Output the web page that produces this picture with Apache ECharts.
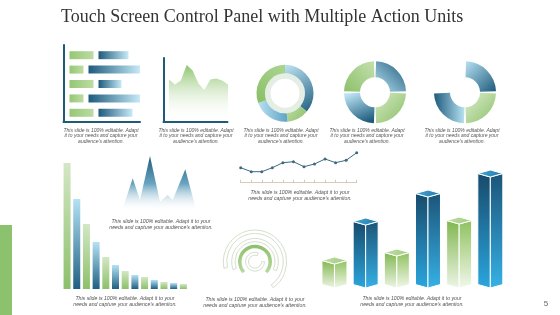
<!DOCTYPE html>
<html><head><meta charset="utf-8">
<script src="https://cdn.jsdelivr.net/npm/echarts@6.0.0/dist/echarts.min.js"></script>
<style>html,body{margin:0;padding:0;background:#fff}#c{width:560px;height:315px}</style>
</head><body><div id="c"></div>
<script>
// ---------- text ----------
const titleText = 'Touch Screen Control Panel with Multiple Action Units';
const captionShort = 'This slide is 100% editable. Adapt\nit to your needs and capture your\naudience\u2019s attention.';
const captionLong = 'This slide is 100% editable. Adapt it to your\nneeds and capture your audience\u2019s attention.';
const pageNumber = '5';

// ---------- panel 1: paired horizontal bars ----------
const hbarRows = ['Row 1', 'Row 2', 'Row 3', 'Row 4', 'Row 5'];
const hbarGreen = [24, 14, 24, 14, 24];
const hbarBlue = [30, 52, 23, 52, 34];

// ---------- panel 2: area ----------
const areaCats = ['1', '2', '3', '4', '5', '6', '7', '8', '9', '10', '11'];
const areaValues = [42, 37, 41, 56.5, 51, 38, 31.5, 42, 43, 41, 37];

// ---------- panels 3-5: donuts (degrees) ----------
const donutAValues = [130, 45, 75, 110];
const donutBValues = [90, 90, 90, 90];
const donutCValues = [90, 90, 90, 90];

// ---------- panel 6: descending bars ----------
const descCats = ['1', '2', '3', '4', '5', '6', '7', '8', '9', '10', '11', '12', '13'];
const descValues = [126, 90, 65, 47, 32, 24, 18, 14, 12, 9, 7, 6, 5];

// ---------- panel 7: mountains ----------
const mountainX = [0, 11, 18.3, 28.3, 38.3, 46, 51, 63.6, 75];
const mountainY = [0, 33.4, 11.7, 55.7, 10, 16.7, 11.7, 42.4, 0];

// ---------- panel 8: line ----------
const lineCats = ['1', '2', '3', '4', '5', '6', '7', '8', '9', '10', '11', '12'];
const lineValues = [15, 11, 11, 15, 20, 21, 16, 18.7, 23.7, 20, 22.4, 30];

// ---------- panel 9: concentric arcs (start angle, sweep in degrees) ----------
const arcStarts = [192, 200, 223, 0];
const arcSweeps = [247, 223, 266, 290];

// ---------- panel 10: 3D bars ----------
const cubeCats = ['A', 'B', 'C', 'D', 'E', 'F'];
const cubeValues = [24, 63, 32, 91, 64, 111];

// =====================================================
const chart = echarts.init(document.getElementById('c'), null, {renderer: 'canvas', width: 560, height: 315});
function lg(x0, y0, x1, y1, c0, c1) {
  return new echarts.graphic.LinearGradient(x0, y0, x1, y1, [{offset: 0, color: c0}, {offset: 1, color: c1}]);
}
const TEAL = '#1d5b78';
const DARKB = '#1d5a7c', LIGHTB = '#b8e2f2';
const frameAxis = (gi) => ({gridIndex: gi, type: 'value', min: 0, max: 1,
  axisLine: {show: true, onZero: false, lineStyle: {color: TEAL, width: 2}},
  axisTick: {show: false}, axisLabel: {show: false}, splitLine: {show: false}});
const hiddenVal = (gi, min, max) => ({gridIndex: gi, type: 'value', min, max, show: false});
const hiddenCat = (gi, data, extra) => Object.assign({gridIndex: gi, type: 'category', data, show: false}, extra || {});

function caption(x, y, text, lh, size) {
  return {type: 'text', x, y, silent: true, style: {text, fill: '#555', fontSize: size, fontStyle: 'italic',
    fontFamily: 'Liberation Sans', textAlign: 'center', textVerticalAlign: 'top', lineHeight: lh}};
}

function pieBase(center, radius, startAngle, data) {
  return {type: 'pie', center, radius, startAngle, clockwise: true, silent: true, animation: false,
    label: {show: false}, labelLine: {show: false}, emphasis: {disabled: true}, data};
}
const transparentItem = (v) => ({value: v, itemStyle: {color: 'rgba(0,0,0,0)', borderWidth: 0}});

const donutAStyles = [
  lg(0, 0, 1, 1, '#bfe3f2', '#1f5f80'),
  lg(0, 0, 1, 1, '#bcdca2', '#8cc06a'),
  lg(1, 0, 0, 0, '#5fa3c6', '#b8e0f0'),
  lg(0, 1, 1, 0, '#88bf65', '#acd491')
];
const donutBStyles = [
  lg(1, 0, 0, 1, DARKB, LIGHTB),
  lg(0, 0, 1, 1, '#d3e8c3', '#8bbf66'),
  lg(0.3, 0, 0.7, 1, LIGHTB, DARKB),
  lg(0, 1, 1, 0, '#8cc06a', '#c4e0ae')
];
const donutCStyles = [
  lg(0, 0, 1, 1, LIGHTB, DARKB),
  lg(0, 0, 1, 1, '#dcedcd', '#8cc06a'),
  lg(0, 0, 1, 0, DARKB, LIGHTB),
  null
];

const arcRadii = [[28.3, 31.7], [20, 23.3], [13.5, 17], [6.5, 9.5]];
const arcSeries = arcStarts.map((s, i) => {
  const filled = i === 2;
  const main = filled
    ? {value: arcSweeps[i], itemStyle: {color: lg(0, 0, 0, 1, '#8cc06a', '#b8d9a0'), borderWidth: 0}}
    : {value: arcSweeps[i], itemStyle: {color: 'rgba(0,0,0,0)', borderColor: '#cbd5bf', borderWidth: 0.8}};
  return pieBase([255, 261.7], arcRadii[i], s, [main, transparentItem(360 - arcSweeps[i])]);
});

const option = {
  animation: false,
  backgroundColor: '#fff',
  title: {text: titleText, left: 61, top: 8, padding: 0,
    textStyle: {fontFamily: 'Liberation Serif', fontSize: 18, fontWeight: 'normal', color: '#333'}},
  grid: [
    {left: 63.5, top: 45, width: 76.5, height: 77},
    {left: 63.5, top: 48, width: 76.5, height: 72},
    {left: 163.5, top: 58, width: 64, height: 63.5},
    {left: 169, top: 58, width: 59, height: 63.5},
    {left: 62.2, top: 160, width: 126, height: 129},
    {left: 121.7, top: 150, width: 75, height: 61.7},
    {left: 240.7, top: 150, width: 116, height: 32.7},
    {left: 318.9, top: 160, width: 187, height: 128}
  ],
  xAxis: [
    frameAxis(0),
    hiddenVal(1, 0, 76.5),
    frameAxis(2),
    hiddenCat(3, areaCats, {boundaryGap: false}),
    hiddenCat(4, descCats),
    hiddenVal(5, 0, 75),
    {gridIndex: 6, type: 'category', data: lineCats, boundaryGap: false,
      axisLine: {show: true, lineStyle: {color: '#d5cdb8', width: 1}},
      axisTick: {show: true, inside: true, length: 3, interval: 0, lineStyle: {color: '#d5cdb8'}},
      axisLabel: {show: false}, splitLine: {show: false}},
    hiddenCat(7, cubeCats)
  ],
  yAxis: [
    frameAxis(0),
    hiddenCat(1, hbarRows, {inverse: true}),
    frameAxis(2),
    hiddenVal(3, 0, 63.5),
    hiddenVal(4, 0, 129),
    hiddenVal(5, 0, 61.7),
    hiddenVal(6, 0, 32.7),
    hiddenVal(7, 0, 128)
  ],
  series: [
    {type: 'bar', xAxisIndex: 1, yAxisIndex: 1, stack: 'h', barWidth: 8, silent: true,
      data: hbarRows.map(() => 6), itemStyle: {color: 'rgba(0,0,0,0)'}},
    {type: 'bar', xAxisIndex: 1, yAxisIndex: 1, stack: 'h', barWidth: 8, silent: true,
      data: hbarGreen, itemStyle: {color: lg(0, 0, 1, 0, '#95c774', '#bddca3')}},
    {type: 'bar', xAxisIndex: 1, yAxisIndex: 1, stack: 'h', barWidth: 8, silent: true,
      data: hbarRows.map(() => 5), itemStyle: {color: 'rgba(0,0,0,0)'}},
    {type: 'bar', xAxisIndex: 1, yAxisIndex: 1, stack: 'h', barWidth: 8, silent: true,
      data: hbarBlue, itemStyle: {color: lg(0, 0, 1, 0, DARKB, '#c6eaf7')}},
    {type: 'line', xAxisIndex: 3, yAxisIndex: 3, data: areaValues, showSymbol: false, silent: true, z: 1,
      lineStyle: {width: 0}, areaStyle: {color: lg(0, 0, 0, 1, '#8dc36d', 'rgba(255,255,255,0)'), opacity: 1}},
    pieBase([285, 93.3], [14.5, 20], 90, [{value: 360, itemStyle: {color: '#e4eee4'}}]),
    pieBase([285, 93.3], [20, 28.5], 90, donutAValues.map((v, i) => ({value: v, itemStyle: {color: donutAStyles[i]}}))),
    Object.assign(pieBase([375, 92.3], [15, 31], 90, donutBValues.map((v, i) => ({value: v, itemStyle: {color: donutBStyles[i]}}))), {padAngle: 4}),
    Object.assign(pieBase([465, 92.3], [15, 31], 90, donutCValues.map((v, i) => donutCStyles[i] ? {value: v, itemStyle: {color: donutCStyles[i]}} : transparentItem(v))), {padAngle: 4}),
    {type: 'bar', xAxisIndex: 4, yAxisIndex: 4, barWidth: 7, silent: true, data: descValues,
      itemStyle: {color: (p) => p.dataIndex % 2 === 0 ? lg(0, 0, 0, 1, '#d3e7c4', '#8cc06a') : lg(0, 0, 0, 1, '#b5e2f4', '#1f5f82')}},
    {type: 'line', xAxisIndex: 5, yAxisIndex: 5, data: mountainX.map((x, i) => [x, mountainY[i]]), showSymbol: false, silent: true,
      lineStyle: {width: 0},
      areaStyle: {opacity: 1, color: new echarts.graphic.LinearGradient(0, 0, 0, 1, [
        {offset: 0, color: '#1e5d80'}, {offset: 0.5, color: '#6aa4c0'}, {offset: 1, color: 'rgba(255,255,255,0)'}])}},
    {type: 'line', xAxisIndex: 6, yAxisIndex: 6, data: lineValues, symbol: 'circle', symbolSize: 3, silent: true,
      lineStyle: {color: '#3e6a82', width: 1}, itemStyle: {color: '#3e6a82'}},
    ...arcSeries,
    {type: 'custom', xAxisIndex: 7, yAxisIndex: 7, silent: true, data: cubeValues.map((v, i) => [i, v]),
      encode: {x: 0, y: 1},
      renderItem: (params, api) => {
        const top = api.coord([api.value(0), api.value(1)]);
        const base = api.coord([api.value(0), 0]);
        const cx = top[0], yt = top[1], yb = base[1];
        const w = 12.5, d = 3.5;
        const green = params.dataIndex % 2 === 0;
        const leftFill = green ? lg(0, 0, 0, 1, '#80b64f', '#eef5e6') : lg(0, 0, 0, 1, '#174a6b', '#2aa6de');
        const rightFill = green ? lg(0, 0, 0, 1, '#8fc15f', '#f2f8ea') : lg(0, 0, 0, 1, '#1c5478', '#36b1e6');
        const topFill = green ? lg(0, 0, 1, 1, '#c2dfa8', '#9fcb7c') : lg(0, 0, 1, 1, '#48a8d6', '#1f76a8');
        const st = (f) => ({fill: f, stroke: '#fff', lineWidth: 1});
        return {type: 'group', children: [
          {type: 'polygon', shape: {points: [[cx - w, yt - d], [cx, yt], [cx, yb], [cx - w, yb - d]]}, style: st(leftFill)},
          {type: 'polygon', shape: {points: [[cx, yt], [cx + w, yt - d], [cx + w, yb - d], [cx, yb]]}, style: st(rightFill)},
          {type: 'polygon', shape: {points: [[cx - w, yt - d], [cx, yt - 2 * d], [cx + w, yt - d], [cx, yt]]}, style: st(topFill)}
        ]};
      }}
  ],
  graphic: [
    {type: 'rect', shape: {x: 0, y: 225, width: 12, height: 90}, style: {fill: '#8cc26e'}, silent: true},
    caption(101, 128.4, captionShort, 5.1, 5),
    caption(196, 128.4, captionShort, 5.1, 5),
    caption(281, 128.4, captionShort, 5.1, 5),
    caption(367, 128.4, captionShort, 5.1, 5),
    caption(462, 128.4, captionShort, 5.1, 5),
    caption(125, 295.2, captionLong, 6.5, 5.2),
    caption(161, 217.9, captionLong, 6.5, 5.2),
    caption(300, 189.2, captionLong, 6.5, 5.2),
    caption(255, 296.2, captionLong, 6.5, 5.2),
    caption(412, 295.2, captionLong, 6.5, 5.2),
    {type: 'text', x: 546, y: 304, silent: true, style: {text: pageNumber, fill: '#666', fontSize: 8,
      fontFamily: 'Liberation Sans', textAlign: 'center', textVerticalAlign: 'middle'}}
  ]
};
chart.setOption(option);
</script>
</body></html>
